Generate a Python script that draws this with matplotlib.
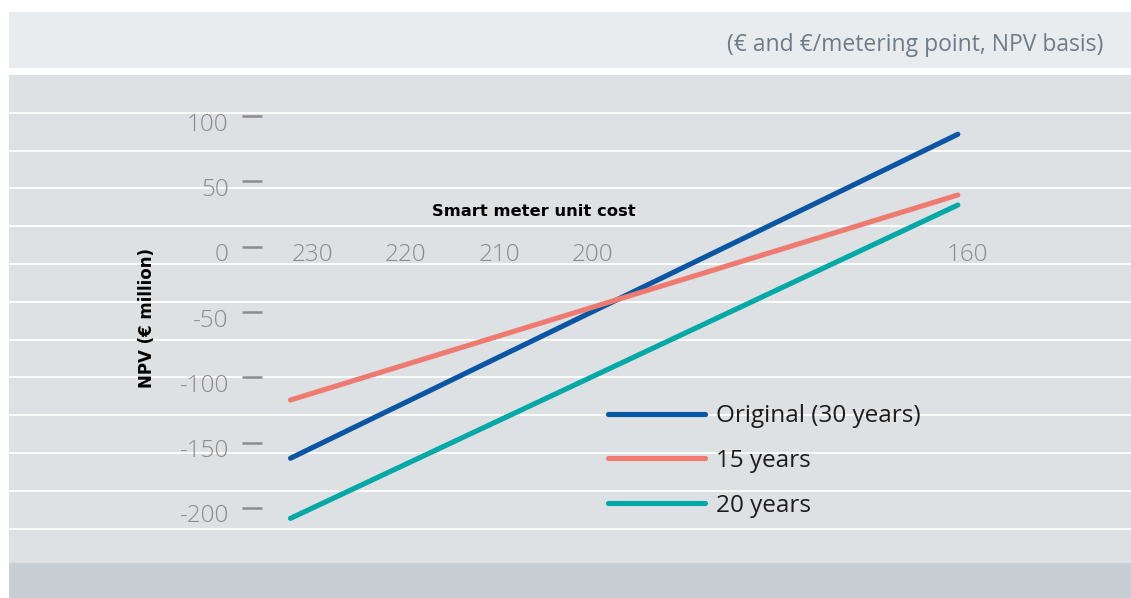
import numpy as np
import matplotlib
matplotlib.use('Agg')
import matplotlib.pyplot as plt
from matplotlib.patches import Rectangle
from matplotlib.transforms import ScaledTranslation

# data
unit_cost = [232.3, 161.0]
npv_original = [-162.0, 86.1]
npv_15 = [-117.4, 39.6]
npv_20 = [-208.0, 31.9]
series_labels = ['Original (30 years)', '15 years', '20 years']
series_colors = ['#0b56a4', '#ef7a70', '#00a8a6']
y_ticks = [100, 50, 0, -50, -100, -150, -200]
x_ticks = [230, 220, 210, 200, 160]

W, H = 1131, 598
DPI = 100
FONT = 'Open Sans'

def fx(px):
    return px / W

def fy(py):
    return 1 - py / H

fig = plt.figure(figsize=(W / DPI, H / DPI), dpi=DPI)
fig.patch.set_facecolor('white')

# background bands
fig.add_artist(Rectangle((fx(9), fy(68)), fx(W) - fx(9), fy(12) - fy(68),
                         transform=fig.transFigure, color='#e8ecef', lw=0, zorder=0))
fig.add_artist(Rectangle((fx(9), fy(563)), fx(W) - fx(9), fy(75) - fy(563),
                         transform=fig.transFigure, color='#dde1e4', lw=0, zorder=0))
fig.add_artist(Rectangle((fx(9), fy(598)), fx(W) - fx(9), fy(563) - fy(598),
                         transform=fig.transFigure, color='#c7cfd5', lw=0, zorder=0))
for k in range(12):
    gy = fy(112.7 + k * 37.8)
    fig.add_artist(plt.Line2D([fx(9), 1], [gy, gy], transform=fig.transFigure,
                              color='white', lw=1.3, zorder=0.5))

fig.text(fx(1103), fy(45), '(€ and €/metering point, NPV basis)', ha='right', va='center',
         fontsize=16.5, color='#6f7b85', family=FONT)

# axes mapped to the reference pixel grid
left, right, top, bottom = 262, 1100, 80, 555
ax = fig.add_axes([fx(left), fy(bottom), fx(right) - fx(left), fy(top) - fy(bottom)])
ax.set_zorder(2)
ax.patch.set_visible(False)
for s in ax.spines.values():
    s.set_visible(False)

x230_px, px_per_x = 312, 9.36
y0_px, px_per_y = 246.7, 1.306
ax.set_xlim(230 - (left - x230_px) / px_per_x, 230 - (right - x230_px) / px_per_x)
ax.set_ylim((y0_px - bottom) / px_per_y, (y0_px - top) / px_per_y)

for vals, lab, col in zip([npv_original, npv_15, npv_20], series_labels, series_colors):
    ax.plot(unit_cost, vals, color=col, lw=3.7, solid_capstyle='round', label=lab, zorder=3)

ax.set_yticks(y_ticks)
ax.set_yticklabels([str(v) for v in y_ticks])
ax.tick_params(axis='y', direction='out', length=14.4, width=1.8, color='#8c8c8c',
               pad=9.5, labelsize=17.5, labelcolor='#8c8c8c')
ax.spines['bottom'].set_position(('data', 0))
ax.set_xticks(x_ticks)
ax.set_xticklabels([str(v) for v in x_ticks])
ax.tick_params(axis='x', length=0, pad=0, labelsize=17.5, labelcolor='#8c8c8c')

shift = ScaledTranslation(0, -8.5 / DPI, fig.dpi_scale_trans)
for lab in ax.get_yticklabels() + ax.get_xticklabels():
    lab.set_family(FONT)
    lab.set_fontweight('light')
    lab.set_verticalalignment('center')
    lab.set_transform(lab.get_transform() + shift)

ax_w = right - left
ax_h = bottom - top
ax.set_xlabel('Smart meter unit cost', fontsize=11.8, fontweight='bold', color='black',
              family='DejaVu Sans')
ax.xaxis.set_label_coords((534 - left) / ax_w, (bottom - 211.7) / ax_h)
ax.xaxis.label.set_verticalalignment('center')
ax.set_ylabel('NPV (€ million)', fontsize=12, fontweight='bold', color='black',
              family='DejaVu Sans')
ax.yaxis.set_label_coords((146.7 - left) / ax_w, (bottom - 318) / ax_h)
ax.yaxis.label.set_verticalalignment('center')

leg = ax.legend(loc='center left', bbox_to_anchor=(fx(608), fy(461)),
                bbox_transform=fig.transFigure, frameon=False, borderpad=0,
                borderaxespad=0, handlelength=4.0, handletextpad=0.45, labelspacing=0.85,
                prop={'family': FONT, 'size': 17.5})
for t in leg.get_texts():
    t.set_color('#1c1c1c')

fig.savefig('out.png', dpi=DPI)
